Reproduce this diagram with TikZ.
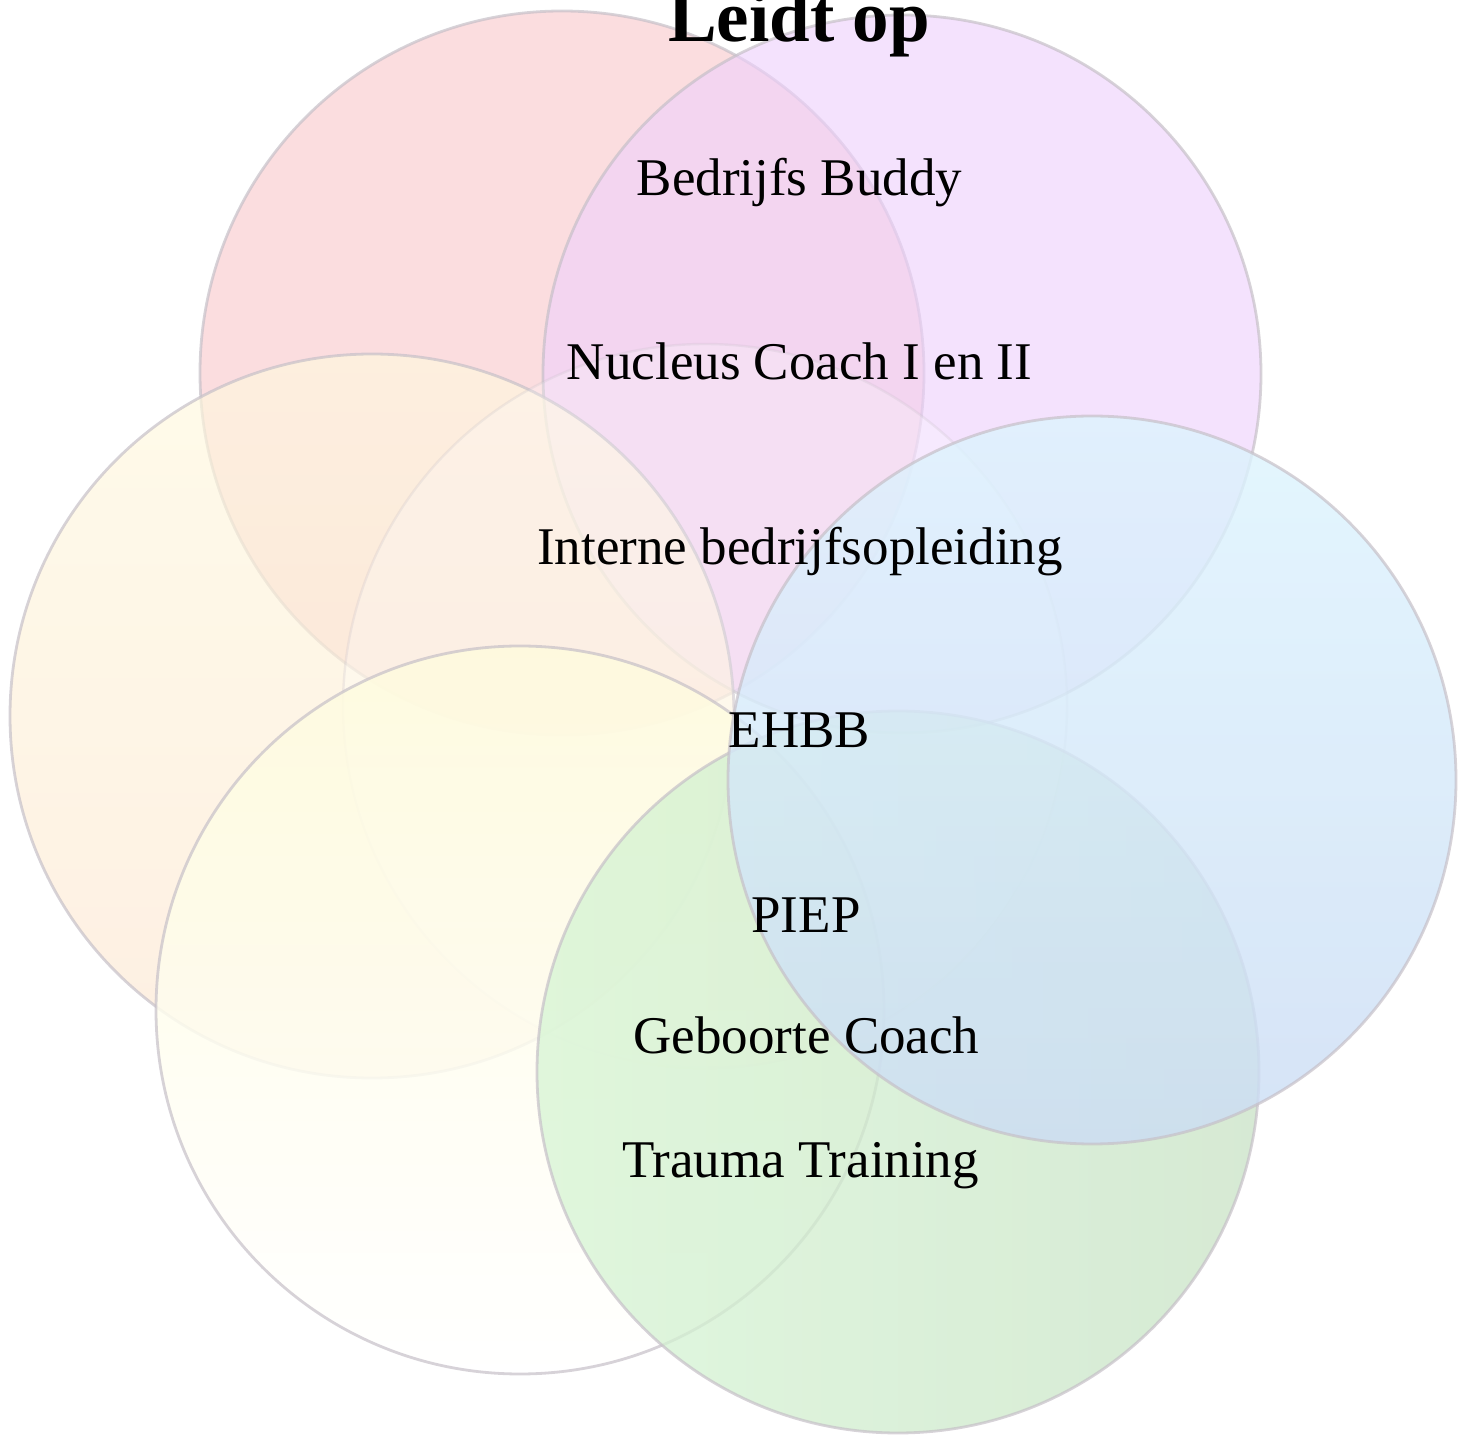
\documentclass[tikz,border=0pt]{standalone}
\usepackage{fontspec}
\setmainfont{Liberation Serif}
\definecolor{redc}{RGB}{249,203,206}
\definecolor{purplec}{RGB}{238,208,252}
\definecolor{orangetop}{RGB}{255,249,222}
\definecolor{orangebot}{RGB}{252,230,210}
\definecolor{ywtop}{RGB}{255,252,222}
\definecolor{ywbot}{RGB}{255,255,255}
\definecolor{greenl}{RGB}{214,245,212}
\definecolor{greenr}{RGB}{200,226,197}
\definecolor{bluetop}{RGB}{221,244,254}
\definecolor{bluebot}{RGB}{203,220,244}
\definecolor{ringgray}{RGB}{198,192,200}
\begin{document}
\begin{tikzpicture}[x=0.5pt,y=-0.5pt,
  ring/.style={draw=ringgray, line width=1.4pt, draw opacity=.7},
  faintring/.style={draw=ringgray, line width=1.2pt, draw opacity=.25},
  lbl/.style={anchor=base, inner sep=0pt, font=\fontsize{26.5}{30}\selectfont},
  ttl/.style={anchor=base, inner sep=0pt, font=\bfseries\fontsize{36.5}{40}\selectfont}]
\useasboundingbox (0,0) rectangle (1469,1438);
% red (top-left)
\path[fill=redc, fill opacity=.65] (562,373) circle[radius=362];
\draw[ring] (562,373) circle[radius=362];
% purple (top-right)
\path[fill=purplec, fill opacity=.62] (902,374) circle[radius=359];
\draw[ring] (902,374) circle[radius=359];
% orange (left)
\path[top color=orangetop, bottom color=orangebot, fill opacity=.65] (372,716) circle[radius=362];
\draw[ring] (372,716) circle[radius=362];
% central faint circle
\path[fill=white, fill opacity=.25] (705,706) circle[radius=362];
\draw[faintring] (705,706) circle[radius=362];
% yellow-white (bottom-left)
\path[top color=ywtop, bottom color=ywbot, fill opacity=.85] (520,1010) circle[radius=364];
\draw[ring] (520,1010) circle[radius=364];
% green (bottom-right)
\path[left color=greenl, right color=greenr, fill opacity=.75] (898,1072) circle[radius=361];
\draw[ring] (898,1072) circle[radius=361];
% blue (right)
\path[top color=bluetop, bottom color=bluebot, fill opacity=.8] (1092,780) circle[radius=364];
\draw[ring] (1092,780) circle[radius=364];
% texts
\node[ttl] (title) at (799,42) {Leidt op};
\node[lbl] (t1) at (799.5,196) {Bedrijfs Buddy};
\node[lbl] (t2) at (799.5,380) {Nucleus Coach I en II};
\node[lbl] (t3) at (800,565) {Interne bedrijfsopleiding};
\node[lbl] (t4) at (799.5,748) {EHBB};
\node[lbl] (t5) at (806,933) {PIEP};
\node[lbl] (t6) at (806.5,1054) {Geboorte Coach};
\node[lbl] (t7) at (800.5,1177) {Trauma Training};
\end{tikzpicture}
\end{document}
